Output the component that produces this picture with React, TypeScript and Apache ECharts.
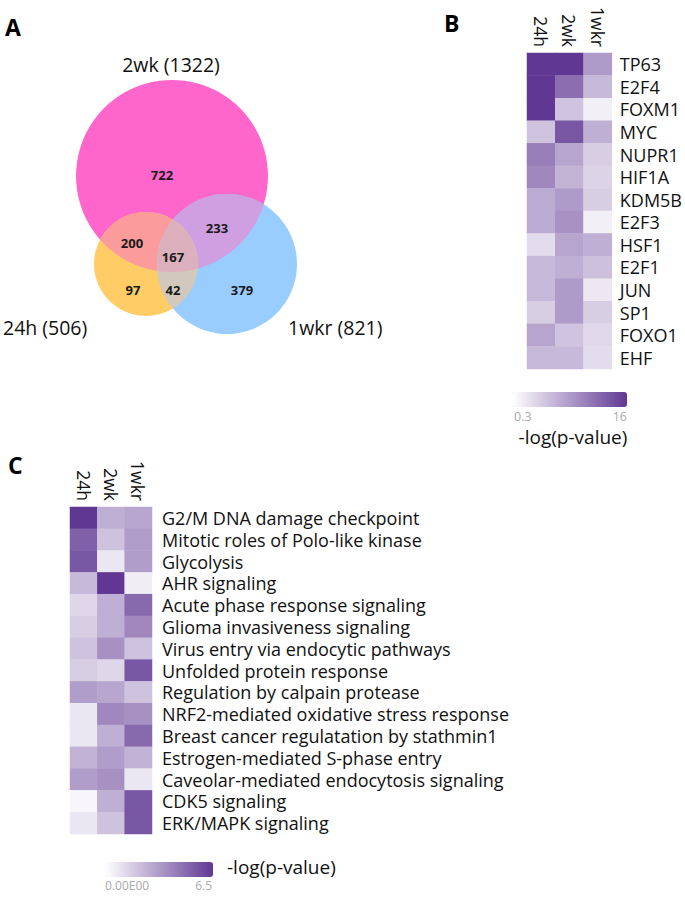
import React, { useEffect, useRef } from 'react';
import * as echarts from 'echarts';

// ---------- Data ----------
const SET_NAMES = ['2wk', '24h', '1wkr'];
const SET_TOTALS = [1322, 506, 821];
// regions: which sets are included (indices into SET_NAMES)
const REGION_SETS = [[0], [1], [2], [0, 1], [0, 2], [1, 2], [0, 1, 2]];
const REGION_COUNTS = [722, 97, 379, 200, 233, 42, 167];

const HEAT_COLUMNS = ['24h', '2wk', '1wkr'];

const B_GENES = ['TP63', 'E2F4', 'FOXM1', 'MYC', 'NUPR1', 'HIF1A', 'KDM5B', 'E2F3', 'HSF1', 'E2F1', 'JUN', 'SP1', 'FOXO1', 'EHF'];
const B_24H = [16, 16, 16, 5.0, 10.5, 9.7, 6.9, 6.9, 3.1, 5.8, 5.8, 4.2, 7.4, 5.8];
const B_2WK = [16, 11.8, 5.0, 13.6, 7.4, 6.2, 8.2, 8.9, 7.4, 6.6, 8.2, 8.2, 5.0, 5.8];
const B_1WKR = [8.2, 5.8, 1.6, 6.6, 4.2, 3.8, 4.2, 1.6, 6.6, 5.3, 2.2, 4.2, 3.4, 3.1];
const B_RANGE = [0.3, 16];
const B_RANGE_LABELS = ['0.3', '16'];

const C_PATHWAYS = [
  'G2/M DNA damage checkpoint',
  'Mitotic roles of Polo-like kinase',
  'Glycolysis',
  'AHR signaling',
  'Acute phase response signaling',
  'Glioma invasiveness signaling',
  'Virus entry via endocytic pathways',
  'Unfolded protein response',
  'Regulation by calpain protease',
  'NRF2-mediated oxidative stress response',
  'Breast cancer regulatation by stathmin1',
  'Estrogen-mediated S-phase entry',
  'Caveolar-mediated endocytosis signaling',
  'CDK5 signaling',
  'ERK/MAPK signaling',
];
const C_24H = [6.5, 5.2, 5.5, 2.3, 1.3, 1.6, 2.0, 1.6, 3.2, 0.8, 0.8, 2.5, 3.2, 0.3, 0.8];
const C_2WK = [2.6, 2.0, 0.8, 6.5, 2.6, 2.6, 3.6, 1.3, 2.9, 3.9, 2.6, 3.2, 3.6, 2.6, 2.0];
const C_1WKR = [2.9, 3.2, 3.2, 0.6, 4.9, 3.9, 2.0, 5.5, 2.0, 3.6, 4.9, 2.5, 0.8, 5.5, 5.5];
const C_RANGE = [0, 6.5];
const C_RANGE_LABELS = ['0.00E00', '6.5'];

const LEGEND_TITLE = '-log(p-value)';

// ---------- Layout / style ----------
const FONT = '"Open Sans", "DejaVu Sans", sans-serif';
const SET_COLORS = ['#FF66CC', '#FFCC66', '#99CCFF'];
const REGION_COLORS = ['#FF66CC', '#FFCC66', '#99CCFF', '#FB9B9B', '#D09FE2', '#D2C8BC', '#DCB1BD'];
const CIRCLES = [
  { cx: 172, cy: 176, r: 96 },
  { cx: 146, cy: 264, r: 52 },
  { cx: 227, cy: 264, r: 70 },
];
const REGION_LABEL_POS = [
  [162, 175], [133, 290], [242, 290], [132, 243], [217, 228], [173, 290], [173, 257],
];
const SET_LABEL_POS = [
  { x: 171, y: 64, align: 'center' },
  { x: 3, y: 327, align: 'left' },
  { x: 288, y: 327, align: 'left' },
];
const HEAT_COLORS = ['#ffffff', '#603893'];

function regionPolygon(sets: number[]): number[][] {
  const pts: number[][] = [];
  const N = 720;
  for (const i of sets) {
    const c = CIRCLES[i];
    for (let k = 0; k < N; k++) {
      const a = (k / N) * Math.PI * 2;
      const x = c.cx + c.r * Math.cos(a);
      const y = c.cy + c.r * Math.sin(a);
      let inside = true;
      for (const j of sets) {
        if (j === i) continue;
        const o = CIRCLES[j];
        if (Math.hypot(x - o.cx, y - o.cy) > o.r + 1e-6) { inside = false; break; }
      }
      if (inside) pts.push([x, y]);
    }
  }
  const mx = pts.reduce((s, p) => s + p[0], 0) / pts.length;
  const my = pts.reduce((s, p) => s + p[1], 0) / pts.length;
  pts.sort((p, q) => Math.atan2(p[1] - my, p[0] - mx) - Math.atan2(q[1] - my, q[0] - mx));
  return pts;
}

function heatData(cols: number[][]) {
  const out: number[][] = [];
  cols.forEach((col, x) => col.forEach((v, y) => out.push([x, y, v])));
  return out;
}

export default function App() {
  const ref = useRef<HTMLDivElement>(null);
  useEffect(() => {
    if (!ref.current) return;
    const chart = echarts.init(ref.current, null, { renderer: 'svg' });

    const colLabel = { fontFamily: FONT, fontSize: 17.5, color: '#111', interval: 0, hideOverlap: false };

    const option: any = {
      animation: false,
      backgroundColor: '#fff',
      grid: [
        { left: 527, top: 53, width: 85, height: 316 },
        { left: 70, top: 507, width: 82, height: 327 },
      ],
      xAxis: [
        {
          type: 'category', gridIndex: 0, data: HEAT_COLUMNS, position: 'top',
          axisLine: { show: true, lineStyle: { color: '#ddd' } }, axisTick: { show: false },
          axisLabel: { ...colLabel, rotate: 90, margin: 6 },
        },
        {
          type: 'category', gridIndex: 1, data: HEAT_COLUMNS, position: 'top',
          axisLine: { show: true, lineStyle: { color: '#ddd' } }, axisTick: { show: false },
          axisLabel: { ...colLabel, rotate: 90, margin: 6 },
        },
      ],
      yAxis: [
        {
          type: 'category', gridIndex: 0, data: B_GENES, inverse: true, position: 'right',
          axisLine: { show: false }, axisTick: { show: false },
          axisLabel: { fontFamily: FONT, fontSize: 18, lineHeight: 20, color: '#111', interval: 0, hideOverlap: false, margin: 8 },
        },
        {
          type: 'category', gridIndex: 1, data: C_PATHWAYS, inverse: true, position: 'right',
          axisLine: { show: false }, axisTick: { show: false },
          axisLabel: { fontFamily: FONT, fontSize: 18, lineHeight: 20, color: '#111', interval: 0, hideOverlap: false, margin: 10 },
        },
      ],
      visualMap: [
        {
          type: 'continuous', seriesIndex: 1, min: B_RANGE[0], max: B_RANGE[1],
          orient: 'horizontal', left: 512, top: 392, itemWidth: 15, itemHeight: 115,
          padding: 0, calculable: false, inRange: { color: HEAT_COLORS }, text: null,
        },
        {
          type: 'continuous', seriesIndex: 2, min: C_RANGE[0], max: C_RANGE[1],
          orient: 'horizontal', left: 105, top: 862, itemWidth: 15, itemHeight: 108,
          padding: 0, calculable: false, inRange: { color: HEAT_COLORS }, text: null,
        },
      ],
      series: [
        {
          type: 'custom',
          coordinateSystem: 'none',
          data: REGION_COUNTS.map((c, i) => [i, c]),
          renderItem: (params: any) => {
            const i = params.dataIndex;
            const sets = REGION_SETS[i];
            let shape: any;
            if (sets.length === 1) {
              const c = CIRCLES[sets[0]];
              shape = { type: 'circle', shape: { cx: c.cx, cy: c.cy, r: c.r }, style: { fill: SET_COLORS[sets[0]] } };
            } else {
              shape = { type: 'polygon', shape: { points: regionPolygon(sets) }, style: { fill: REGION_COLORS[i] } };
            }
            const [lx, ly] = REGION_LABEL_POS[i];
            return {
              type: 'group',
              children: [
                shape,
                {
                  type: 'text', z2: 10,
                  style: {
                    text: String(REGION_COUNTS[i]), x: lx, y: ly, fill: '#1a1a1a',
                    font: `bold 13px ${FONT}`, align: 'center', verticalAlign: 'middle',
                    textAlign: 'center', textVerticalAlign: 'middle',
                  },
                },
              ],
            };
          },
        },
        {
          type: 'heatmap', xAxisIndex: 0, yAxisIndex: 0,
          data: heatData([B_24H, B_2WK, B_1WKR]),
          itemStyle: { borderWidth: 0 },
        },
        {
          type: 'heatmap', xAxisIndex: 1, yAxisIndex: 1,
          data: heatData([C_24H, C_2WK, C_1WKR]),
          itemStyle: { borderWidth: 0 },
        },
      ],
      graphic: [
        { type: 'text', left: 5, top: 15, style: { text: 'A', font: `bold 23px ${FONT}`, fill: '#000' } },
        { type: 'text', left: 444, top: 11, style: { text: 'B', font: `bold 23px ${FONT}`, fill: '#000' } },
        { type: 'text', left: 8, top: 453, style: { text: 'C', font: `bold 23px ${FONT}`, fill: '#000' } },
        ...SET_NAMES.map((n, i) => ({
          type: 'text', x: SET_LABEL_POS[i].x, y: SET_LABEL_POS[i].y,
          style: {
            text: `${n} (${SET_TOTALS[i]})`, font: `19.5px ${FONT}`, fill: '#111',
            textAlign: SET_LABEL_POS[i].align, textVerticalAlign: 'middle',
            align: SET_LABEL_POS[i].align, verticalAlign: 'middle',
          },
        })),
        { type: 'text', x: 514, y: 416, style: { text: B_RANGE_LABELS[0], font: `12.5px ${FONT}`, fill: '#aaa', align: 'left', verticalAlign: 'middle', textAlign: 'left', textVerticalAlign: 'middle' } },
        { type: 'text', x: 627, y: 416, style: { text: B_RANGE_LABELS[1], font: `12.5px ${FONT}`, fill: '#aaa', align: 'right', verticalAlign: 'middle', textAlign: 'right', textVerticalAlign: 'middle' } },
        { type: 'text', x: 573, y: 437, style: { text: LEGEND_TITLE, font: `19px ${FONT}`, fill: '#111', align: 'center', verticalAlign: 'middle', textAlign: 'center', textVerticalAlign: 'middle' } },
        { type: 'text', x: 105, y: 885, style: { text: C_RANGE_LABELS[0], font: `12px ${FONT}`, fill: '#aaa', align: 'left', verticalAlign: 'middle', textAlign: 'left', textVerticalAlign: 'middle' } },
        { type: 'text', x: 212, y: 885, style: { text: C_RANGE_LABELS[1], font: `12px ${FONT}`, fill: '#aaa', align: 'right', verticalAlign: 'middle', textAlign: 'right', textVerticalAlign: 'middle' } },
        { type: 'text', x: 227, y: 867, style: { text: LEGEND_TITLE, font: `19px ${FONT}`, fill: '#111', align: 'left', verticalAlign: 'middle', textAlign: 'left', textVerticalAlign: 'middle' } },
      ],
    };
    chart.setOption(option);
    return () => chart.dispose();
  }, []);
  return <div ref={ref} style={{ position: 'absolute', left: 0, top: 0, width: 685, height: 899 }} />;
}
